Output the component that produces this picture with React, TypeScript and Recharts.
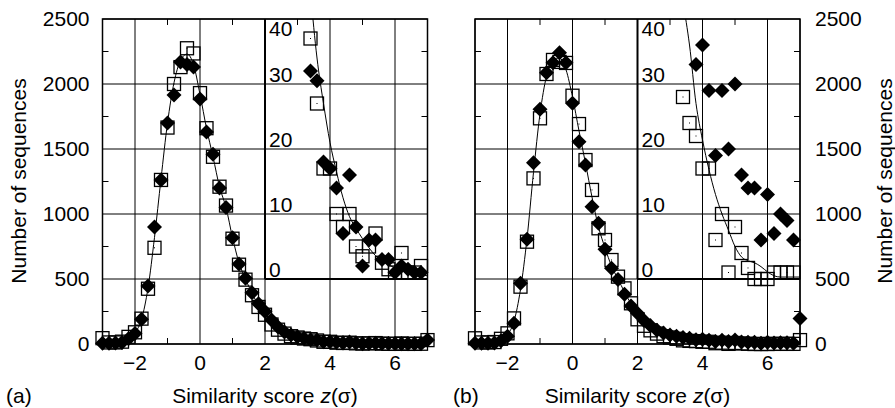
import { CartesianGrid, ComposedChart, Label, Line, ReferenceArea, ReferenceLine, Scatter, XAxis, YAxis } from "recharts"

const FONT = '"Liberation Sans", Arial, Helvetica, sans-serif'

// bin centres (similarity score z)
const zScores = [
  -3, -2.8, -2.6, -2.4, -2.2, -2, -1.8, -1.6, -1.4, -1.2,
  -1, -0.8, -0.6, -0.4, -0.2, 0, 0.2, 0.4, 0.6, 0.8,
  1, 1.2, 1.4, 1.6, 1.8, 2, 2.2, 2.4, 2.6, 2.8,
  3, 3.2, 3.4, 3.6, 3.8, 4, 4.2, 4.4, 4.6, 4.8,
  5, 5.2, 5.4, 5.6, 5.8, 6, 6.2, 6.4, 6.6, 6.8, 7,
]

// panel (a)
const squaresA = [
  45, 12, 12, 18, 55, 90, 195, 425, 740, 1262,
  1665, 2000, 2130, 2275, 2235, 1930, 1660, 1440, 1210, 1065,
  810, 610, 495, 375, 285, 225, 150, 110, 80, 60,
  50, 42, 37, 27, 17, 17, 10, 8, 10, 5,
  3.5, 5, 7, 2.5, 1.5, 1, 4, 1, 1, 2, 30,
]
const diamondsA = [
  5, 5, 8, 12, 40, 80, 190, 446, 900, 1262,
  1700, 1915, 2170, 2150, 2130, 1885, 1630, 1460, 1200, 1050,
  818, 615, 505, 395, 310, 250, 185, 130, 92, 70,
  55, 45, 32, 30.5, 18, 17, 14, 7, 16, 8,
  2, 6, 6, 3, 3, 1, 2, 1.5, 1, 1, 30,
]
const fitA = [
  0, 1, 4, 12, 35, 85, 190, 430, 820, 1270,
  1700, 2010, 2180, 2230, 2150, 1920, 1660, 1440, 1210, 1050,
  820, 625, 500, 390, 300, 235, 175, 130, 100, 75,
  60, 52, 44, 34, 27, 21, 16.5, 12.5, 9.6, 7.8,
  6.2, 4.8, 3.6, 2.9, 2.2, 1.7, 1.3, 1.0, 0.8, 0.6, 0.5,
]

// panel (b)
const squaresB = [
  44, 12, 12, 15, 40, 82, 197, 441, 787, 1274,
  1736, 2077, 2185, 2170, 2162, 1910, 1692, 1415, 1185, 890,
  800, 646, 518, 428, 313, 190, 140, 105, 80, 60,
  50, 40, 28, 24, 22, 17, 17, 6, 10, 1,
  8, 4, 1.7, 0, 0, 0, 1, 1, 1, 1, 30,
]
const diamondsB = [
  5, 5, 5, 8, 25, 60, 160, 467, 805, 1395,
  1805, 2087, 2164, 2241, 2164, 1851, 1556, 1377, 1056, 928,
  728, 582, 497, 382, 292, 236, 180, 140, 105, 85,
  70, 60, 50, 45, 33, 36, 29, 19, 29, 20,
  30, 16, 14, 14, 6, 13, 7, 10, 9, 6, 197,
]
const fitB = [
  0, 1, 3, 10, 28, 72, 175, 420, 810, 1320,
  1770, 2060, 2190, 2200, 2110, 1900, 1640, 1390, 1130, 900,
  740, 600, 500, 400, 310, 240, 180, 135, 100, 75,
  60, 50, 42.5, 36, 27, 21.4, 16.8, 13, 10, 7.5,
  5, 3.4, 2.8, 2.5, 1.9, 1.1, 0.5, 0.3, 0.3, 0.3, 0.3,
]

const xTicks = [-2, 0, 2, 4, 6]
const minorXTicks = [-1, 1, 3, 5]
const yTicks = [0, 500, 1000, 1500, 2000, 2500]
const minorYTicks = [250, 750, 1250, 1750, 2250]
const insetTicks = [0, 10, 20, 30, 40]

const TICK_X = 0.185
const TICK_Y = 46

type Pt = { x: number; y: number }
const toPoints = (vals: number[]): Pt[] => zScores.map((x, i) => ({ x, y: vals[i] }))
const insetMarks = (pts: Pt[]) => pts.filter((p) => p.x >= 3.4 && p.x <= 6.8 && p.y <= 40)
const insetCurve = (pts: Pt[]) => pts.filter((p) => p.x >= 3.4)
const fmtX = (v: number) => (v < 0 ? `\u2212${-v}` : `${v}`)

function Square(props: any) {
  const { cx, cy } = props
  if (cx == null || cy == null) return null
  return (
    <g>
      <rect x={cx - 6.5} y={cy - 6.5} width={13} height={13} fill="none" stroke="#000" strokeWidth={1.3} />
      <rect x={cx - 0.5} y={cy - 0.5} width={1} height={1} fill="#000" />
    </g>
  )
}

function Diamond(props: any) {
  const { cx, cy } = props
  if (cx == null || cy == null) return null
  const r = 7.5
  return <polygon points={`${cx},${cy - r} ${cx + r},${cy} ${cx},${cy + r} ${cx - r},${cy}`} fill="#000" />
}

function InsetTick(props: any) {
  const { cx, cy, payload } = props
  const top = payload.y === 40
  return (
    <text x={cx + 4} y={cy + (top ? 9 : -10)} dominantBaseline="central" fontSize={21} fontFamily={FONT} fill="#000">
      {payload.y}
    </text>
  )
}

type PanelProps = {
  squares: number[]
  diamonds: number[]
  fit: number[]
  side: "left" | "right"
  tag: string
  tagX: number
  yTitleX: number
  width: number
  margin: { top: number; right: number; bottom: number; left: number }
}

function Panel({ squares, diamonds, fit, side, tag, tagX, yTitleX, width, margin }: PanelProps) {
  const sq = toPoints(squares)
  const di = toPoints(diamonds)
  const ft = toPoints(fit)
  const tickStyle = { fontSize: 21, fill: "#000", fontFamily: FONT }

  return (
    <ComposedChart width={width} height={408} margin={margin}>
      <CartesianGrid yAxisId="main" stroke="#000" strokeWidth={1} />
      <XAxis
        dataKey="x"
        type="number"
        domain={[-3, 7]}
        ticks={xTicks}
        interval={0}
        tickFormatter={fmtX}
        tick={tickStyle}
        tickLine={false}
        axisLine={false}
        tickSize={0}
        tickMargin={11}
        height={30}
      >
        <Label
          content={(p: any) => {
            const vb = p.viewBox || { x: 0, width: 0 }
            return (
              <g fontFamily={FONT} fontSize={21} fill="#000">
                <text x={tagX} y={403}>{tag}</text>
                <text x={vb.x + vb.width / 2} y={403} textAnchor="middle">
                  Similarity score <tspan fontStyle="italic">z</tspan>(σ)
                </text>
              </g>
            )
          }}
        />
      </XAxis>
      <YAxis
        yAxisId="main"
        dataKey="y"
        orientation={side}
        domain={[0, 2500]}
        ticks={yTicks}
        interval={0}
        tick={tickStyle}
        tickLine={false}
        axisLine={false}
        tickSize={0}
        tickMargin={side === "left" ? 13 : 15}
        width={60}
      >
        <Label
          content={() => (
            <text
              x={yTitleX}
              y={181}
              transform={`rotate(-90, ${yTitleX}, 181)`}
              textAnchor="middle"
              dominantBaseline="central"
              fontFamily={FONT}
              fontSize={21}
              fill="#000"
            >
              Number of sequences
            </text>
          )}
        />
      </YAxis>
      <YAxis yAxisId="inset" dataKey="y" hide width={0} orientation={side} domain={[-10, 40]} />
      <YAxis yAxisId="insetCurve" dataKey="y" hide width={0} orientation={side} domain={[-10, 40]} allowDataOverflow />

      {minorYTicks.map((v) => (
        <ReferenceLine key={`l${v}`} yAxisId="main" segment={[{ x: -3, y: v }, { x: -3 + TICK_X, y: v }]} stroke="#000" />
      ))}
      {minorYTicks.map((v) => (
        <ReferenceLine key={`r${v}`} yAxisId="main" segment={[{ x: 7 - TICK_X, y: v }, { x: 7, y: v }]} stroke="#000" />
      ))}
      {minorXTicks.map((v) => (
        <ReferenceLine key={`t${v}`} yAxisId="main" segment={[{ x: v, y: 2500 - TICK_Y }, { x: v, y: 2500 }]} stroke="#000" />
      ))}
      {minorXTicks.map((v) => (
        <ReferenceLine key={`b${v}`} yAxisId="main" segment={[{ x: v, y: 0 }, { x: v, y: TICK_Y }]} stroke="#000" />
      ))}

      <ReferenceArea yAxisId="main" x1={-3} x2={7} y1={0} y2={2500} fill="none" stroke="#000" strokeWidth={1.5} />
      <ReferenceLine yAxisId="main" segment={[{ x: 2, y: 500 }, { x: 2, y: 2500 }]} stroke="#000" strokeWidth={2} />
      <ReferenceLine yAxisId="main" segment={[{ x: 2, y: 500 }, { x: 7, y: 500 }]} stroke="#000" strokeWidth={2} />

      {/* main distribution */}
      <Scatter yAxisId="main" data={sq} dataKey="y" shape={(p: any) => <Square {...p} />} isAnimationActive={false} />
      <Scatter yAxisId="main" data={di} dataKey="y" shape={(p: any) => <Diamond {...p} />} isAnimationActive={false} />
      <Line yAxisId="main" data={ft} dataKey="y" type="monotone" stroke="#000" strokeWidth={1} dot={false} activeDot={false} isAnimationActive={false} />

      {/* inset: tail magnified */}
      <Scatter yAxisId="inset" data={insetMarks(sq)} dataKey="y" shape={(p: any) => <Square {...p} />} isAnimationActive={false} />
      <Scatter yAxisId="inset" data={insetMarks(di)} dataKey="y" shape={(p: any) => <Diamond {...p} />} isAnimationActive={false} />
      <Line yAxisId="insetCurve" data={insetCurve(ft)} dataKey="y" type="monotone" stroke="#000" strokeWidth={1} dot={false} activeDot={false} isAnimationActive={false} />
      <Scatter yAxisId="inset" data={insetTicks.map((v) => ({ x: 2, y: v }))} dataKey="y" shape={(p: any) => <InsetTick {...p} />} isAnimationActive={false} />
    </ComposedChart>
  )
}

export default function App() {
  return (
    <div style={{ position: "absolute", left: 0, top: 0, width: 895, height: 408, background: "#fff" }}>
      <div style={{ position: "absolute", left: 0, top: 0 }}>
        <Panel
          squares={squaresA}
          diamonds={diamondsA}
          fit={fitA}
          side="left"
          tag="(a)"
          tagX={6}
          yTitleX={18}
          width={447}
          margin={{ top: 19, right: 19.5, bottom: 34, left: 42.5 }}
        />
      </div>
      <div style={{ position: "absolute", left: 447, top: 0 }}>
        <Panel
          squares={squaresB}
          diamonds={diamondsB}
          fit={fitB}
          side="right"
          tag="(b)"
          tagX={6}
          yTitleX={437}
          width={448}
          margin={{ top: 19, right: 35, bottom: 34, left: 28 }}
        />
      </div>
    </div>
  )
}
